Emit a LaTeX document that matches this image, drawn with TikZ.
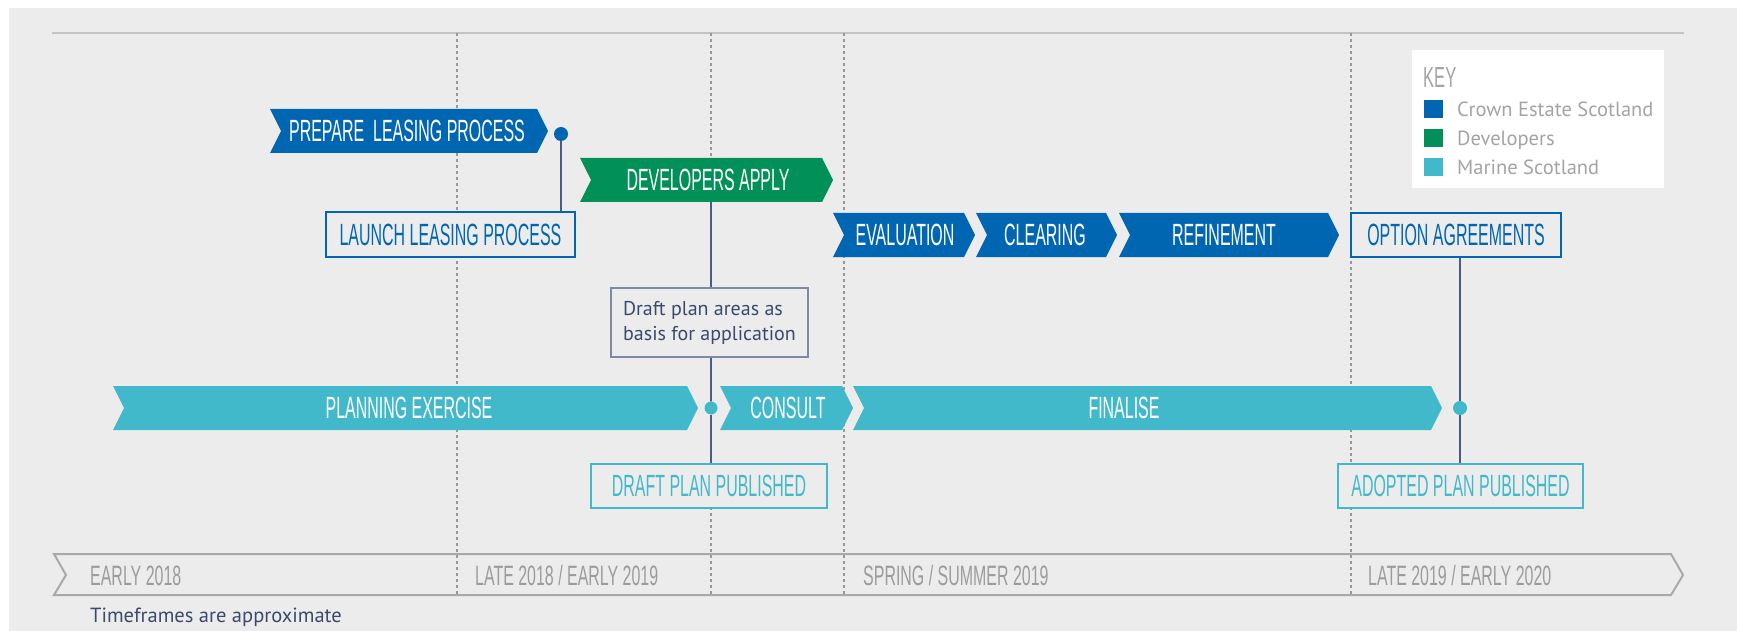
\documentclass[tikz,border=0pt]{standalone}
\usepackage{fontspec}
\usetikzlibrary{calc}
\newfontfamily\condfont[FakeStretch = 0.52]{Liberation Sans}
\newfontfamily\yearfont[FakeStretch = 0.57]{Liberation Sans}
\newfontfamily\plainfont{PT Sans}
\definecolor{bggrey}{HTML}{ECECEC}
\definecolor{cesblue}{HTML}{0066B2}
\definecolor{devgreen}{HTML}{009058}
\definecolor{marcyan}{HTML}{42B9CB}
\definecolor{slate}{HTML}{4A5C80}
\definecolor{boxslate}{HTML}{7D8AA6}
\definecolor{axisgrey}{HTML}{A9A9A9}
\definecolor{labelgrey}{HTML}{9C9C9C}
\definecolor{keygrey}{HTML}{A4A4A4}
\definecolor{navytext}{HTML}{3B4A6B}
\tikzset {
    chev text/.style = {
        font = \condfont\fontsize{30.7}{32}\selectfont,
        text = white, inner sep = 0pt, minimum height = 44pt
    },
    milestone/.style = {
        draw = #1, fill = bggrey, text = #1, line width = 2pt,
        inner sep = 0pt, minimum height = 44pt,
        font = \condfont\fontsize{30.7}{32}\selectfont
    },
    dot/.style = {circle, fill = #1, inner sep = 0pt, minimum size = 14pt},
    link/.style = {slate, line width = 1.5pt},
    period/.style = {axisgrey!90!black, dash pattern = on 3pt off 3pt, line width = 1.2pt},
    year/.style = {
        anchor = base west, text = labelgrey, inner sep = 0pt,
        font = \yearfont\fontsize{28}{30}\selectfont
    },
    key entry/.style = {
        anchor = base west, text = keygrey, inner sep = 0pt,
        font = \plainfont\fontsize{20.5}{24}\selectfont
    }
}
% name, left, right, centre y, colour, text x, text
\newcommand{\chevron}[7]{%
    \fill [#5] (#2, #4 - 22) -- (#3, #4 - 22) -- (#3 + 11, #4) -- (#3, #4 + 22)
        -- (#2, #4 + 22) -- (#2 + 11, #4) -- cycle;
    \node (#1) [chev text] at (#6, #4) {#7};
}
\begin{document}
\begin{tikzpicture}[x = 1pt, y = -1pt]
    \useasboundingbox (0, 0) rectangle (1737, 631);
    \fill [white] (0, 0) rectangle (1737, 631);
    \fill [bggrey] (9, 8) rectangle (1737, 631);
    % rule and period lines
    \draw [axisgrey!70, line width = 2pt] (52, 33) -- (1684, 33);
    \foreach \x in {457, 711, 844, 1351}
        \draw [period] (\x, 33) -- (\x, 595);
    % time axis
    \draw [axisgrey, line width = 2pt, line join = miter]
        (54, 554) -- (1671, 554) -- (1683, 575) -- (1671, 595)
        -- (54, 595) -- (66, 575) -- cycle;
    \node (early18) [year] at (90, 585) {EARLY 2018};
    \node (late18) [year] at (475, 585) {LATE 2018 / EARLY 2019};
    \node (spring19) [year] at (863, 585) {SPRING / SUMMER 2019};
    \node (late19) [year] at (1368, 585) {LATE 2019 / EARLY 2020};
    \node (approx) [anchor = base west, inner sep = 0pt, text = navytext,
        font = \plainfont\fontsize{20.5}{24}\selectfont] at (90, 622) {Timeframes are approximate};
    % key
    \fill [white] (1412, 50) rectangle (1664, 188);
    \node (key) [anchor = base west, inner sep = 0pt, text = keygrey,
        font = \yearfont\fontsize{29}{30}\selectfont] at (1423, 88) {KEY};
    \foreach \y/\c/\t [count = \i] in {117/cesblue/Crown Estate Scotland,
            146/devgreen/Developers, 175/marcyan/Marine Scotland} {
        \fill [\c] (1424, \y - 17) rectangle (1443, \y + 1);
        \node (key\i) [key entry] at (1457, \y) {\t};
    }
    % activities
    \chevron{prepare}{270}{537}{131}{cesblue}{407}{PREPARE \ LEASING PROCESS}
    \chevron{apply}{580}{822}{180}{devgreen}{708}{DEVELOPERS APPLY}
    \chevron{evaluation}{833}{964}{235}{cesblue}{905}{EVALUATION}
    \chevron{clearing}{976}{1106}{235}{cesblue}{1045}{CLEARING}
    \chevron{refinement}{1119}{1328}{235}{cesblue}{1224}{REFINEMENT}
    \chevron{planning}{113}{687}{408}{marcyan}{409}{PLANNING EXERCISE}
    \chevron{consult}{720}{842}{408}{marcyan}{788}{CONSULT}
    \chevron{finalise}{853}{1431}{408}{marcyan}{1124}{FINALISE}
    % milestones
    \node (launch) [milestone = cesblue, minimum width = 249pt] at (450.5, 234.5) {LAUNCH LEASING PROCESS};
    \node (option) [milestone = cesblue, minimum width = 210pt] at (1456, 235) {OPTION AGREEMENTS};
    \node (draftpub) [milestone = marcyan, minimum width = 236pt] at (709, 486) {DRAFT PLAN PUBLISHED};
    \node (adopted) [milestone = marcyan, minimum width = 245pt] at (1460.5, 486) {ADOPTED PLAN PUBLISHED};
    \node (areas) [draw = boxslate, fill = bggrey, line width = 1.5pt, inner sep = 0pt,
        minimum width = 197pt, minimum height = 69pt, align = left,
        text = navytext, font = \plainfont\fontsize{20}{25}\selectfont]
        at (709.5, 322.5) {Draft plan areas as\\basis for application};
    \node (prepdot) [dot = cesblue] at (561, 134) {};
    \node (draftdot) [dot = marcyan, minimum size = 13pt] at (711, 408) {};
    \node (adopdot) [dot = marcyan] at (1460, 408) {};
    % links
    \draw [link] (prepdot.south) -- (prepdot |- launch.north);
    \draw [link] (draftdot |- apply.south) -- (draftdot |- areas.north);
    \draw [link] (draftdot |- areas.south) -- (draftdot.north);
    \draw [link] (draftdot.south) -- (draftdot |- draftpub.north);
    \draw [link] (adopdot |- option.south) -- (adopdot.north);
    \draw [link] (adopdot.south) -- (adopdot |- adopted.north);
\end{tikzpicture}
\end{document}
